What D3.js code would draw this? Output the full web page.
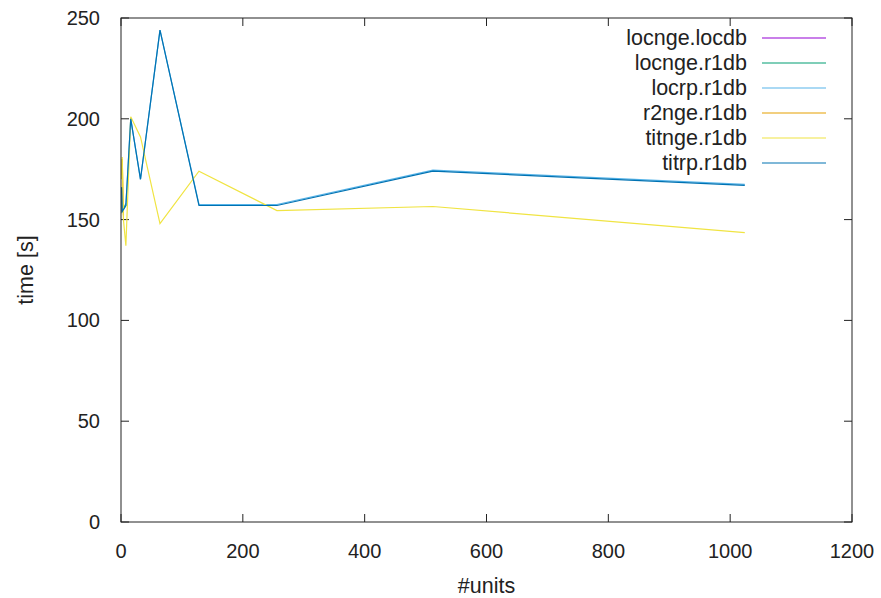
<!DOCTYPE html>
<html>
<head>
<meta charset="utf-8">
<script src="https://cdn.jsdelivr.net/npm/d3@7"></script>
<style>
  body { margin: 0; background: #fff; }
  text { font-family: "Liberation Sans", Arial, sans-serif; fill: #222; }
</style>
</head>
<body>
<div id="chart"></div>
<script>
const WIDTH = 881, HEIGHT = 598;
const margin = {top: 18, right: 29, bottom: 76, left: 121};

// series names and colours (gnuplot default palette)
const seriesNames = ["locnge.locdb", "locnge.r1db", "locrp.r1db", "r2nge.r1db", "titnge.r1db", "titrp.r1db"];
const seriesColors = ["#9400d3", "#009e73", "#56b4e9", "#e69f00", "#f0e442", "#0072b2"];

// x values (#units) for each series
const locngeLocdbUnits = [1, 2];
const locngeR1dbUnits = [1, 2, 4, 8];
const locrpR1dbUnits = [1, 2, 4, 8, 16, 32, 64, 128, 256, 512, 1024];
const r2ngeR1dbUnits = [1, 2, 4];
const titngeR1dbUnits = [1, 2, 4, 8, 16, 32, 64, 128, 256, 512, 1024];
const titrpR1dbUnits = [1, 2, 4, 8, 16, 32, 64, 128, 256, 512, 1024];

// y values (time [s])
const locngeLocdbTimes = [165, 154];
const locngeR1dbTimes = [160, 154, 155, 158];
const locrpR1dbTimes = [166, 154.5, 155, 157, 200, 170, 244, 157.5, 157.5, 174.5, 167.5];
const r2ngeR1dbTimes = [172, 180, 152];
const titngeR1dbTimes = [170, 181, 150, 137, 201, 191, 148, 174, 154.5, 156.5, 143.5];
const titrpR1dbTimes = [166, 154, 155, 157, 200, 170, 244, 157, 157, 174, 167];

const xTicks = [0, 200, 400, 600, 800, 1000, 1200];
const yTicks = [0, 50, 100, 150, 200, 250];

const allUnits = [locngeLocdbUnits, locngeR1dbUnits, locrpR1dbUnits, r2ngeR1dbUnits, titngeR1dbUnits, titrpR1dbUnits];
const allTimes = [locngeLocdbTimes, locngeR1dbTimes, locrpR1dbTimes, r2ngeR1dbTimes, titngeR1dbTimes, titrpR1dbTimes];

let series = seriesNames.map(function(name, i) {
  return {
    name: name,
    color: seriesColors[i],
    points: allUnits[i].map(function(u, j) { return {units: u, time: allTimes[i][j]}; })
  };
});

let w = WIDTH - margin.left - margin.right;
let h = HEIGHT - margin.top - margin.bottom;

let svg = d3.select("#chart")
  .append("svg")
  .attr("width", WIDTH)
  .attr("height", HEIGHT)
  .append("g")
  .attr("transform", `translate(${margin.left}, ${margin.top})`);

let x = d3.scaleLinear().domain([0, 1200]).range([0, w]);
let y = d3.scaleLinear().domain([0, 250]).range([h, 0]);

// inward ticks on all four sides, like gnuplot
const TICK = 8;
let tickGroup = svg.append("g").attr("stroke", "#222").attr("stroke-width", 1);
xTicks.forEach(function(t) {
  tickGroup.append("line").attr("x1", x(t)).attr("x2", x(t)).attr("y1", h).attr("y2", h - TICK);
  tickGroup.append("line").attr("x1", x(t)).attr("x2", x(t)).attr("y1", 0).attr("y2", TICK);
});
yTicks.forEach(function(t) {
  tickGroup.append("line").attr("x1", 0).attr("x2", TICK).attr("y1", y(t)).attr("y2", y(t));
  tickGroup.append("line").attr("x1", w).attr("x2", w - TICK).attr("y1", y(t)).attr("y2", y(t));
});

// tick labels
svg.append("g").selectAll("text")
  .data(xTicks)
  .enter()
  .append("text")
  .attr("x", function(d) { return x(d); })
  .attr("y", h + 36)
  .style("text-anchor", "middle")
  .style("font-size", "20px")
  .text(function(d) { return d; });

svg.append("g").selectAll("text")
  .data(yTicks)
  .enter()
  .append("text")
  .attr("x", -21)
  .attr("y", function(d) { return y(d) + 7; })
  .style("text-anchor", "end")
  .style("font-size", "20px")
  .text(function(d) { return d; });

// lines
let line = d3.line()
  .x(function(d) { return x(d.units); })
  .y(function(d) { return y(d.time); });

svg.append("g").selectAll("path")
  .data(series)
  .enter()
  .append("path")
  .attr("fill", "none")
  .attr("stroke", function(d) { return d.color; })
  .attr("stroke-width", 1.2)
  .attr("d", function(d) { return line(d.points); });

// frame
svg.append("rect")
  .attr("width", w)
  .attr("height", h)
  .attr("fill", "none")
  .attr("stroke", "#222")
  .attr("stroke-width", 1);

// legend
let legend = svg.append("g").selectAll("g")
  .data(series)
  .enter()
  .append("g")
  .attr("transform", function(d, i) { return `translate(0, ${20 + i * 25})`; });

legend.append("text")
  .attr("x", 626)
  .attr("y", 7)
  .style("text-anchor", "end")
  .style("font-size", "21.5px")
  .text(function(d) { return d.name; });

legend.append("line")
  .attr("x1", 641)
  .attr("x2", 705)
  .attr("stroke", function(d) { return d.color; })
  .attr("stroke-width", 1.2);

// axis labels
svg.append("text")
  .attr("transform", `translate(${w / 2}, ${h + 71})`)
  .style("text-anchor", "middle")
  .style("font-size", "21.5px")
  .text("#units");

svg.append("text")
  .attr("transform", `translate(-88, ${h / 2}) rotate(-90)`)
  .style("text-anchor", "middle")
  .style("font-size", "21.5px")
  .text("time [s]");
</script>
</body>
</html>
